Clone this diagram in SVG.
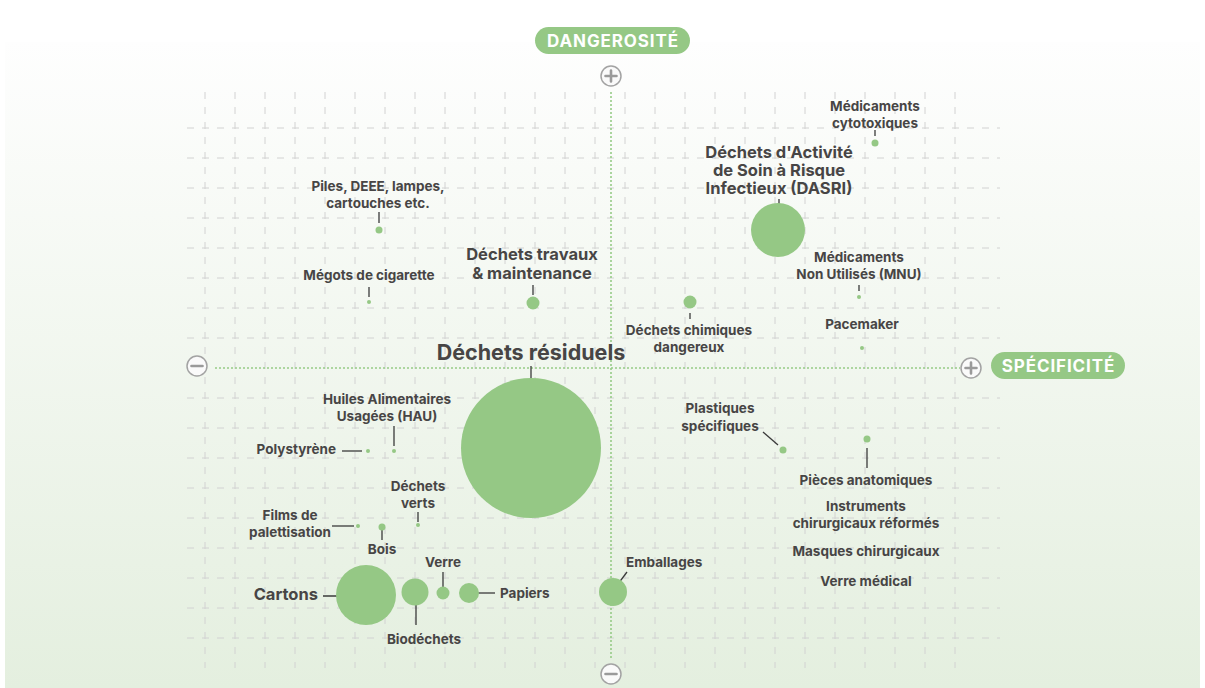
<svg xmlns="http://www.w3.org/2000/svg" width="1205" height="688" viewBox="0 0 1205 688">
<defs>
<linearGradient id="bg" x1="0" y1="0" x2="0" y2="1">
<stop offset="0" stop-color="#fefefe"/>
<stop offset="1" stop-color="#e4efdf"/>
</linearGradient>
<style>
.t{font-family:Inter,"Liberation Sans",sans-serif;font-weight:700;fill:#474545;font-size:13.5px;text-anchor:middle;letter-spacing:0px}
.l{font-size:16.5px}
.xl{font-size:21.5px}
.s{text-anchor:start}
.e{text-anchor:end}
.b{fill:#95c885}
.k{stroke:#3a3a3a;stroke-width:1.3;fill:none}
.gv{stroke:#d2d2d2;stroke-width:1;stroke-dasharray:7 8}
.ax{stroke:#97cb87;stroke-width:1.6;stroke-dasharray:2 2;fill:none}
.ic{fill:#fafafa;stroke:#a3a3a3;stroke-width:1.5}
.ib{stroke:#9a9a9a;stroke-width:2.6;stroke-linecap:round}
.pill{fill:#95c885}
.pt{font-family:Inter,"Liberation Sans",sans-serif;font-weight:700;fill:#fff;font-size:17px;text-anchor:middle;letter-spacing:0.9px}
</style>
</defs>
<rect x="0" y="0" width="1205" height="688" fill="#ffffff"/>
<rect x="5" y="42" width="1195" height="646" fill="url(#bg)"/>
<g id="grid">
<g class="gv">
<path d="M205 92V668M235 92V668M265 92V668M295 92V668M325 92V668M355 92V668M385 92V668M415 92V668M445 92V668M475 92V668M505 92V668M535 92V668M565 92V668M595 92V668M625 92V668M655 92V668M685 92V668M715 92V668M745 92V668M775 92V668M805 92V668M835 92V668M865 92V668M895 92V668M925 92V668M955 92V668"/>
<path d="M187 128H1000M187 158H1000M187 188H1000M187 218H1000M187 248H1000M187 278H1000M187 308H1000M187 338H1000M187 398H1000M187 428H1000M187 458H1000M187 488H1000M187 518H1000M187 548H1000M187 578H1000M187 608H1000M187 638H1000"/>
</g>
</g>
<g id="axes">
<path class="ax" d="M611 92V660"/>
<path class="ax" d="M215 368H960"/>
<g id="icon-plus-top"><circle class="ic" cx="611" cy="76" r="10"/><path class="ib" d="M605.5 76H616.5M611 70.5V81.5"/></g>
<g id="icon-minus-left"><circle class="ic" cx="197" cy="366" r="10"/><path class="ib" d="M191.5 366H202.5"/></g>
<g id="icon-plus-right"><circle class="ic" cx="971" cy="368" r="10"/><path class="ib" d="M965.5 368H976.5M971 362.5V373.5"/></g>
<g id="icon-minus-bottom"><circle class="ic" cx="611" cy="674" r="10"/><path class="ib" d="M605.5 674H616.5"/></g>
<g id="label-dangerosite"><rect class="pill" x="535" y="27" width="155" height="27" rx="13.5"/><text class="pt" x="613" y="47">DANGEROSITÉ</text></g>
<g id="label-specificite"><rect class="pill" x="991" y="352" width="134" height="27" rx="13.5"/><text class="pt" x="1058.5" y="372">SPÉCIFICITÉ</text></g>
</g>
<g id="connectors">
<path class="k" d="M875 130V136"/>
<path class="k" d="M779 199V217"/>
<path class="k" d="M859 285V291"/>
<path class="k" d="M690 313V319"/>
<path class="k" d="M533 285V295"/>
<path class="k" d="M379 212V223"/>
<path class="k" d="M369 287V297"/>
<path class="k" d="M531 366V425"/>
<path class="k" d="M342 451H362"/>
<path class="k" d="M394 426V446"/>
<path class="k" d="M418 512V522"/>
<path class="k" d="M332 526H354"/>
<path class="k" d="M382 530V540"/>
<path class="k" d="M323 596H364"/>
<path class="k" d="M416 592V625"/>
<path class="k" d="M443 572V590"/>
<path class="k" d="M469 593H495"/>
<path class="k" d="M615 588L627 572"/>
<path class="k" d="M763 432L778 445"/>
<path class="k" d="M867 448V468"/>
</g>
<g id="n-cytotoxiques"><circle class="b" cx="875" cy="143" r="3.5"/><text class="t" x="875" y="111">Médicaments</text><text class="t" x="875" y="128">cytotoxiques</text></g>
<g id="n-dasri"><circle class="b" cx="778" cy="230" r="27"/><text class="t l" x="779" y="158">Déchets d'Activité</text><text class="t l" x="779" y="176">de Soin à Risque</text><text class="t l" x="779" y="194">Infectieux (DASRI)</text></g>
<g id="n-mnu"><circle class="b" cx="859" cy="297" r="2"/><text class="t" x="859" y="262">Médicaments</text><text class="t" x="859" y="279">Non Utilisés (MNU)</text></g>
<g id="n-pacemaker"><circle class="b" cx="862" cy="348" r="2"/><text class="t" x="862" y="329">Pacemaker</text></g>
<g id="n-chimiques"><circle class="b" cx="690" cy="302" r="6.5"/><text class="t" x="689" y="335">Déchets chimiques</text><text class="t" x="689" y="352">dangereux</text></g>
<g id="n-travaux"><circle class="b" cx="533" cy="303" r="6.5"/><text class="t l" x="532" y="260">Déchets travaux</text><text class="t l" x="532" y="279">&amp; maintenance</text></g>
<g id="n-piles"><circle class="b" cx="379" cy="230" r="3.5"/><text class="t" x="378" y="191">Piles, DEEE, lampes,</text><text class="t" x="378" y="208">cartouches etc.</text></g>
<g id="n-megots"><circle class="b" cx="369" cy="302" r="2"/><text class="t" x="369" y="280">Mégots de cigarette</text></g>
<g id="n-residuels"><circle class="b" cx="531" cy="448" r="70"/><text class="t xl" x="531" y="360">Déchets résiduels</text></g>
<g id="n-hau"><circle class="b" cx="394" cy="451" r="2"/><text class="t" x="387" y="404">Huiles Alimentaires</text><text class="t" x="387" y="421">Usagées (HAU)</text></g>
<g id="n-polystyrene"><circle class="b" cx="368" cy="451" r="2"/><text class="t e" x="336" y="454">Polystyrène</text></g>
<g id="n-verts"><circle class="b" cx="418" cy="525" r="2"/><text class="t" x="418" y="491">Déchets</text><text class="t" x="418" y="508">verts</text></g>
<g id="n-films"><circle class="b" cx="358" cy="526" r="2"/><text class="t" x="290" y="520">Films de</text><text class="t" x="290" y="537">palettisation</text></g>
<g id="n-bois"><circle class="b" cx="382" cy="527" r="3.5"/><text class="t" x="382" y="554">Bois</text></g>
<g id="n-cartons"><circle class="b" cx="366" cy="595" r="30"/><text class="t l e" x="318" y="600">Cartons</text></g>
<g id="n-biodechets"><circle class="b" cx="415" cy="592" r="13.5"/><text class="t" x="424" y="644">Biodéchets</text></g>
<g id="n-verre"><circle class="b" cx="443" cy="593" r="6.5"/><text class="t" x="443" y="567">Verre</text></g>
<g id="n-papiers"><circle class="b" cx="469" cy="593" r="10"/><text class="t s" x="500" y="598">Papiers</text></g>
<g id="n-emballages"><circle class="b" cx="613" cy="592" r="14"/><text class="t s" x="626" y="567">Emballages</text></g>
<g id="n-plastiques"><circle class="b" cx="783" cy="450" r="3.5"/><text class="t" x="720" y="413">Plastiques</text><text class="t" x="720" y="431">spécifiques</text></g>
<g id="n-pieces"><circle class="b" cx="867" cy="439" r="3.5"/><text class="t" x="866" y="485">Pièces anatomiques</text></g>
<g id="n-instruments"><text class="t" x="866" y="511">Instruments</text><text class="t" x="866" y="528">chirurgicaux réformés</text></g>
<g id="n-masques"><text class="t" x="866" y="556">Masques chirurgicaux</text></g>
<g id="n-verre-medical"><text class="t" x="866" y="586">Verre médical</text></g>
</svg>
